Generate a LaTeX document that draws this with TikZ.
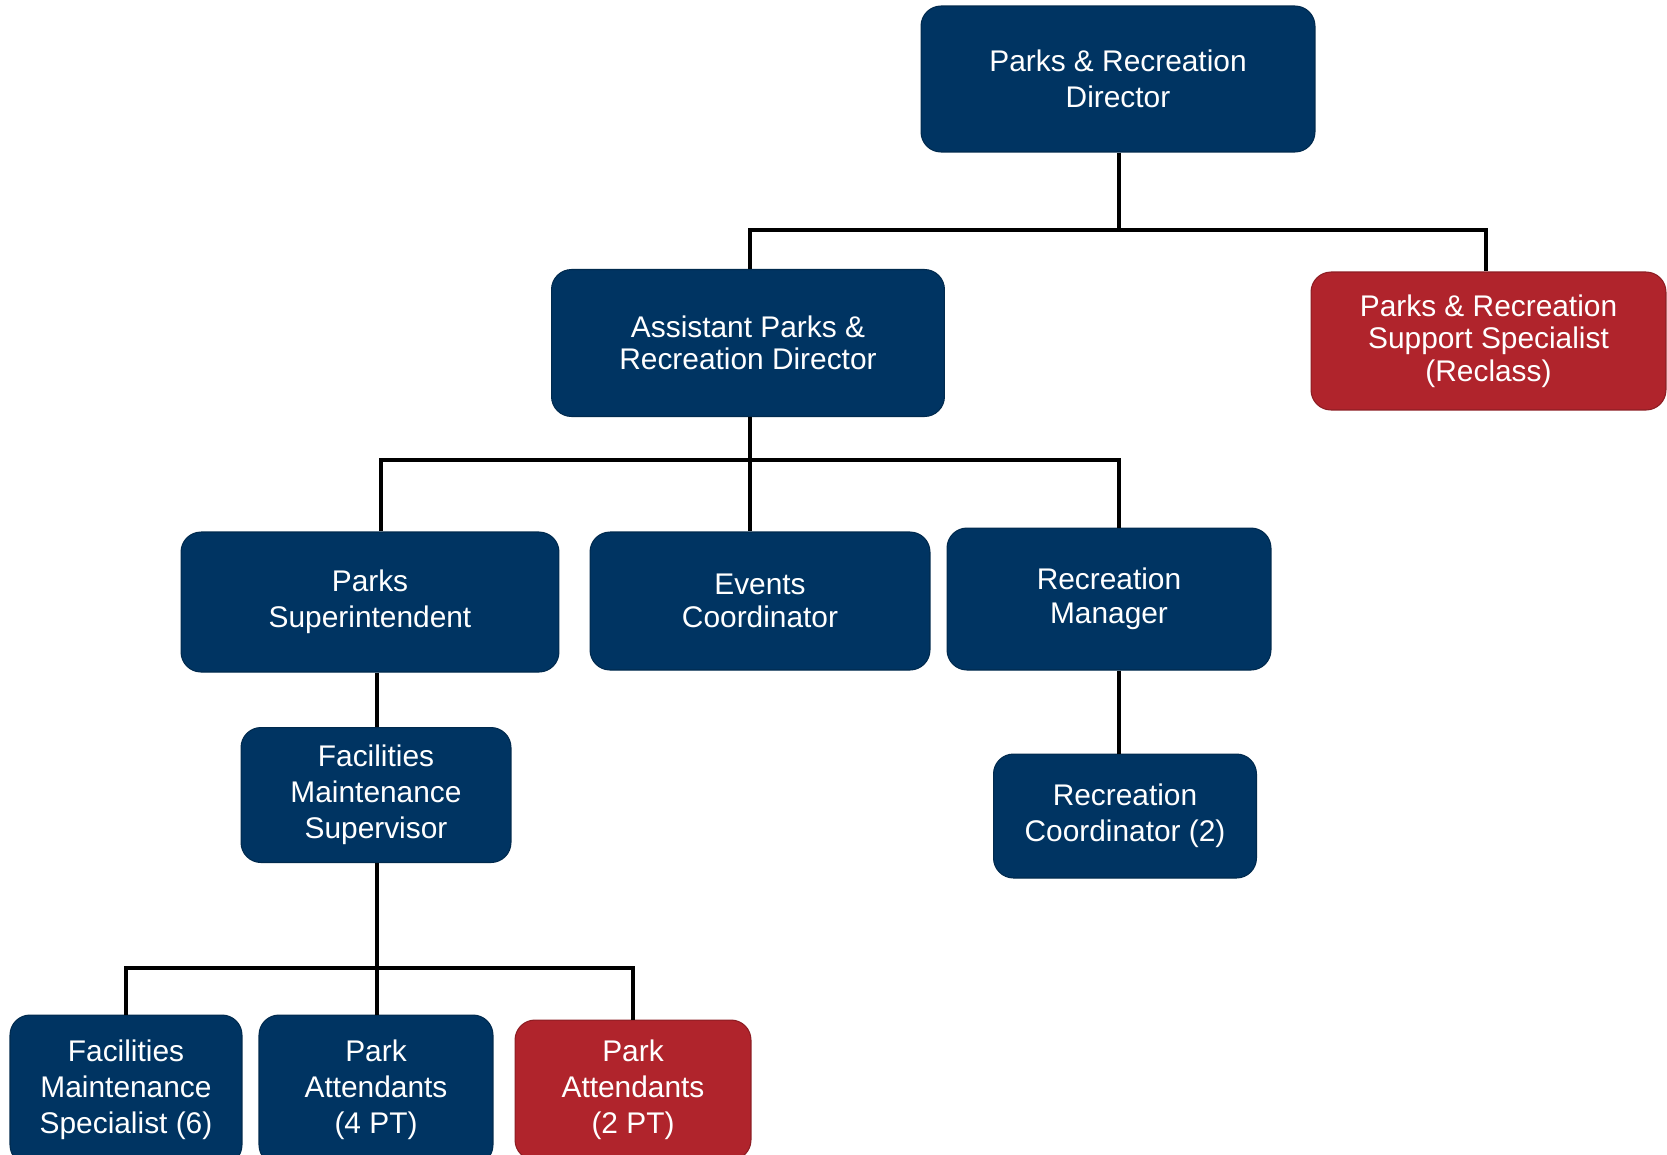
\documentclass[tikz,border=0pt]{standalone}
\usepackage{fontspec}
\setmainfont{Liberation Sans}
\usetikzlibrary{calc}
\definecolor{navy}{RGB}{0,52,98}
\definecolor{redbox}{RGB}{176,36,44}
\begin{document}
\begin{tikzpicture}[x=0.02cm,y=-0.02cm,
  box/.style={rounded corners=0.4cm, fill=navy, draw=navy!80!black, line width=0.6pt, text=white, align=center, inner sep=0pt,
    font=\fontsize{17}{20.5}\selectfont},
  redb/.style={box, fill=redbox, draw=redbox!80!black},
  conn/.style={line width=2.8pt, black, line join=miter}]
\useasboundingbox[fill=white] (0,0) rectangle (1667,1154);

\node[box, minimum width=7.88cm, minimum height=2.92cm] (dir) at (1118,79) {Parks \& Recreation\\Director};
\node[box, minimum width=7.86cm, minimum height=2.94cm, font=\fontsize{17}{18.5}\selectfont] (asst) at (748,343) {Assistant Parks \&\\Recreation Director};
\node[redb, minimum width=7.1cm, minimum height=2.76cm, font=\fontsize{17}{18.5}\selectfont] (spec) at (1488.5,341) {Parks \& Recreation\\Support Specialist\\(Reclass)};

\node[box, minimum width=7.56cm, minimum height=2.8cm] (ps) at (370,602) {Parks\\Superintendent};
\node[box, minimum width=6.8cm, minimum height=2.76cm, font=\fontsize{17}{18.5}\selectfont] (ev) at (760,601) {Events\\Coordinator};
\node[box, minimum width=6.48cm, minimum height=2.84cm, font=\fontsize{17}{19.5}\selectfont] (rm) at (1109,599) {Recreation\\Manager};

\node[box, minimum width=5.4cm, minimum height=2.7cm] (fms) at (376,795) {Facilities\\Maintenance\\Supervisor};
\node[box, minimum width=5.26cm, minimum height=2.48cm] (rc) at (1125,816) {Recreation\\Coordinator (2)};

\node[box, minimum width=4.64cm, minimum height=3.0cm] (fmspec) at (126,1090) {Facilities\\Maintenance\\Specialist (6)};
\node[box, minimum width=4.68cm, minimum height=3.0cm] (pa4) at (376,1090) {Park\\Attendants\\(4 PT)};
\node[redb, minimum width=4.72cm, minimum height=2.8cm] (pa2) at (633,1090) {Park\\Attendants\\(2 PT)};

% connectors
\coordinate (b1) at (1119,230);
\coordinate (b2) at (750,460);
\coordinate (b3) at (377,968);

\draw[conn] (dir.south -| b1) -- (b1);
\draw[conn] (asst.north -| 750,0) |- (b1) -| (spec.north -| 1486,0);

\draw[conn] (asst.south -| b2) -- (ev.north -| b2);
\draw[conn] (ps.north -| 381,0) |- (b2) -| (rm.north -| 1119,0);

\draw[conn] (ps.south -| 377,0) -- (fms.north -| 377,0);
\draw[conn] (rm.south -| 1119,0) -- (rc.north -| 1119,0);

\draw[conn] (fms.south -| b3) -- (pa4.north -| b3);
\draw[conn] (fmspec.north) |- (b3) -| (pa2.north);
\end{tikzpicture}
\end{document}
